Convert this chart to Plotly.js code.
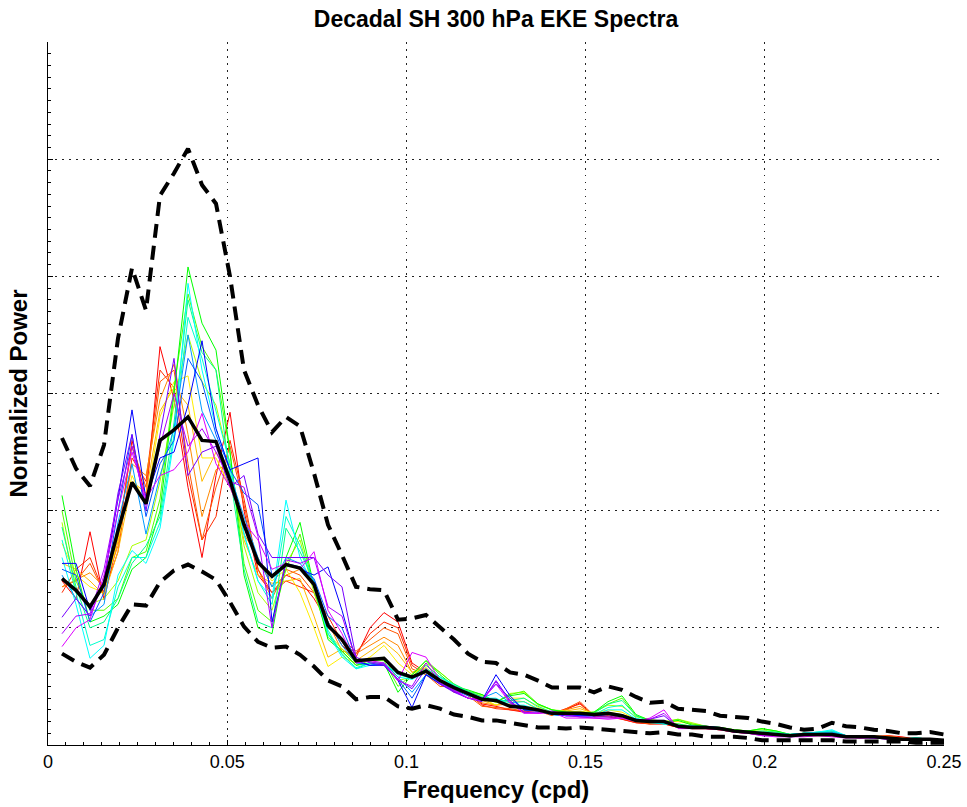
<!DOCTYPE html>
<html>
<head>
<meta charset="utf-8">
<script src="https://cdn.plot.ly/plotly-3.0.1.min.js"></script>
<style>html,body{margin:0;padding:0;background:#fff;}#chart{width:967px;height:807px;}</style>
</head>
<body>
<div id="chart"></div>
<script>
// frequency grid (cpd): k/256, k = 1..64
const freqK = [1,2,3,4,5,6,7,8,9,10,11,12,13,14,15,16,17,18,19,20,21,22,23,24,25,26,27,28,29,30,31,32,
  33,34,35,36,37,38,39,40,41,42,43,44,45,46,47,48,49,50,51,52,53,54,55,56,57,58,59,60,61,62,63,64];
const freq = freqK.map(k => k / 256);

// ensemble mean (solid black)
const meanPow = [1.42,1.32,1.18,1.37,1.83,2.24,2.06,2.60,2.69,2.80,2.60,2.59,2.26,1.88,1.56,1.44,1.54,1.51,1.37,1.02,0.90,0.72,0.73,0.74,0.62,0.58,0.63,0.55,0.49,0.44,0.39,0.38,
  0.33,0.32,0.30,0.27,0.27,0.27,0.26,0.27,0.25,0.21,0.20,0.20,0.16,0.15,0.15,0.14,0.12,0.11,0.10,0.09,0.08,0.09,0.09,0.09,0.07,0.07,0.07,0.06,0.05,0.05,0.05,0.04];
// upper and lower bounds (dashed black)
const upperPow = [2.62,2.36,2.21,2.56,3.47,4.07,3.71,4.69,4.88,5.09,4.78,4.62,4.00,3.20,2.90,2.67,2.80,2.72,2.32,1.88,1.62,1.35,1.33,1.32,1.07,1.08,1.11,1.01,0.90,0.78,0.71,0.70,
  0.62,0.60,0.55,0.49,0.49,0.49,0.45,0.50,0.47,0.41,0.36,0.37,0.31,0.30,0.29,0.25,0.24,0.23,0.20,0.18,0.15,0.13,0.14,0.19,0.16,0.15,0.13,0.12,0.10,0.10,0.11,0.09];
const lowerPow = [0.78,0.71,0.66,0.77,1.00,1.20,1.19,1.39,1.49,1.54,1.48,1.41,1.22,1.01,0.88,0.83,0.84,0.77,0.67,0.55,0.50,0.39,0.41,0.41,0.33,0.31,0.34,0.31,0.26,0.24,0.21,0.21,
  0.19,0.17,0.15,0.15,0.14,0.15,0.14,0.13,0.12,0.11,0.10,0.11,0.09,0.09,0.07,0.07,0.07,0.06,0.04,0.04,0.04,0.04,0.04,0.04,0.03,0.03,0.03,0.03,0.03,0.02,0.02,0.02];

// individual decades (red ... magenta)
const dec01 = [1.40,1.25,1.82,1.24,1.75,2.60,2.10,3.40,2.95,2.20,1.60,2.30,2.84,2.00,1.45,1.30,1.45,1.40,1.25,1.05,0.85,0.75,1.00,1.13,1.05,0.70,0.62,0.55,0.45,0.45,0.35,0.33,
  0.30,0.28,0.30,0.26,0.30,0.36,0.24,0.25,0.22,0.19,0.18,0.18,0.15,0.14,0.14,0.13,0.11,0.10,0.09,0.08,0.08,0.08,0.08,0.08,0.07,0.06,0.07,0.08,0.07,0.05,0.04,0.03];
const dec02 = [1.30,1.50,1.60,1.30,1.65,2.45,2.25,3.20,3.05,2.30,1.75,1.95,2.60,2.10,1.50,1.30,1.40,1.35,1.30,1.10,0.88,0.78,0.95,1.05,1.00,0.68,0.60,0.52,0.47,0.44,0.34,0.31,
  0.30,0.29,0.31,0.27,0.31,0.35,0.25,0.24,0.22,0.19,0.18,0.18,0.15,0.14,0.14,0.13,0.11,0.10,0.09,0.08,0.08,0.08,0.08,0.08,0.07,0.07,0.07,0.07,0.06,0.05,0.05,0.04];
const dec03 = [1.35,1.40,1.55,1.30,1.80,2.55,2.20,3.10,3.20,2.40,1.75,2.20,2.55,2.05,1.50,1.25,1.50,1.45,1.30,1.00,0.90,0.80,0.90,1.00,0.95,0.65,0.60,0.50,0.50,0.42,0.33,0.32,
  0.31,0.29,0.29,0.25,0.31,0.37,0.25,0.26,0.23,0.20,0.18,0.19,0.16,0.14,0.14,0.13,0.12,0.10,0.09,0.08,0.08,0.08,0.09,0.08,0.07,0.07,0.07,0.08,0.06,0.05,0.05,0.04];
const dec04 = [1.35,1.41,1.47,1.35,1.70,2.40,2.30,2.95,3.25,2.65,1.95,2.35,2.40,1.80,1.60,1.35,1.45,1.50,1.35,1.05,0.80,0.78,0.85,0.92,0.85,0.62,0.65,0.55,0.47,0.45,0.36,0.34,
  0.35,0.33,0.28,0.27,0.30,0.33,0.26,0.27,0.25,0.21,0.19,0.19,0.17,0.15,0.15,0.14,0.12,0.11,0.10,0.09,0.08,0.08,0.09,0.09,0.07,0.07,0.08,0.07,0.06,0.05,0.05,0.04];
const dec05 = [1.55,1.50,1.40,1.28,1.65,2.25,2.15,2.85,3.05,2.90,2.25,2.50,2.30,1.75,1.45,1.38,1.40,1.42,1.10,0.75,0.82,0.72,0.80,0.88,0.78,0.62,0.66,0.56,0.48,0.45,0.38,0.34,
  0.38,0.37,0.30,0.28,0.29,0.31,0.27,0.28,0.26,0.22,0.20,0.20,0.18,0.16,0.16,0.14,0.12,0.11,0.10,0.09,0.08,0.09,0.09,0.09,0.08,0.07,0.07,0.06,0.05,0.05,0.05,0.04];
const dec06 = [1.72,1.45,1.35,1.30,1.75,2.30,2.05,2.80,3.10,3.15,2.45,2.45,2.20,1.90,1.55,1.40,1.50,1.30,1.00,0.67,0.75,0.70,0.75,0.85,0.70,0.60,0.68,0.58,0.48,0.44,0.40,0.34,
  0.40,0.40,0.32,0.28,0.28,0.29,0.27,0.30,0.28,0.22,0.21,0.20,0.20,0.18,0.16,0.14,0.12,0.11,0.11,0.10,0.08,0.09,0.09,0.09,0.08,0.07,0.07,0.06,0.05,0.05,0.05,0.04];
const dec07 = [1.90,1.30,1.20,1.25,1.40,1.70,1.75,2.25,2.90,3.50,3.10,2.90,2.40,1.70,1.30,1.15,1.55,1.75,1.30,0.95,0.82,0.70,0.72,0.75,0.55,0.58,0.70,0.62,0.52,0.45,0.42,0.36,
  0.44,0.45,0.34,0.30,0.29,0.28,0.28,0.34,0.33,0.24,0.22,0.20,0.22,0.19,0.16,0.15,0.13,0.12,0.13,0.11,0.09,0.09,0.10,0.10,0.08,0.07,0.06,0.06,0.05,0.05,0.05,0.04];
const dec08 = [2.00,1.40,1.15,1.15,1.25,1.60,1.65,2.10,3.05,3.85,3.40,3.20,2.50,1.55,1.15,1.05,1.50,1.80,1.35,0.92,0.80,0.68,0.72,0.72,0.50,0.60,0.72,0.62,0.52,0.46,0.43,0.37,
  0.43,0.46,0.35,0.30,0.28,0.27,0.28,0.35,0.40,0.25,0.21,0.19,0.22,0.18,0.16,0.15,0.13,0.12,0.14,0.12,0.09,0.10,0.10,0.10,0.08,0.07,0.06,0.06,0.05,0.05,0.05,0.04];
const dec09 = [2.13,1.50,1.05,1.10,1.20,1.50,1.60,2.00,3.00,4.08,3.60,3.37,2.50,1.45,1.00,0.95,1.60,1.90,1.35,0.90,0.80,0.68,0.70,0.70,0.45,0.60,0.72,0.60,0.50,0.47,0.43,0.37,
  0.42,0.44,0.35,0.30,0.28,0.27,0.28,0.37,0.42,0.26,0.21,0.19,0.21,0.17,0.16,0.15,0.13,0.12,0.14,0.12,0.09,0.10,0.10,0.11,0.08,0.07,0.06,0.06,0.05,0.06,0.05,0.04];
const dec10 = [1.86,1.35,1.00,1.05,1.25,1.55,1.70,1.95,2.75,3.80,3.35,3.20,2.30,1.50,1.05,1.00,1.85,1.65,1.40,0.95,0.78,0.65,0.70,0.68,0.62,0.58,0.68,0.58,0.52,0.46,0.41,0.38,
  0.38,0.40,0.33,0.28,0.27,0.26,0.27,0.35,0.38,0.25,0.20,0.18,0.18,0.16,0.15,0.14,0.12,0.11,0.12,0.11,0.09,0.10,0.11,0.12,0.08,0.07,0.06,0.06,0.05,0.06,0.05,0.04];
const dec11 = [1.75,1.30,0.85,0.90,1.35,1.60,1.60,1.90,2.65,3.65,3.30,2.85,2.40,1.80,1.40,1.20,1.95,1.70,1.38,0.98,0.77,0.66,0.70,0.70,0.60,0.57,0.65,0.58,0.51,0.45,0.40,0.39,
  0.36,0.37,0.31,0.27,0.26,0.26,0.26,0.32,0.34,0.23,0.20,0.18,0.17,0.15,0.15,0.14,0.12,0.11,0.11,0.10,0.09,0.10,0.11,0.12,0.08,0.07,0.06,0.06,0.05,0.06,0.05,0.04];
const dec12 = [1.60,1.20,0.74,0.85,1.45,1.66,1.55,1.85,2.60,3.94,3.20,2.70,2.35,1.80,1.40,1.25,2.09,1.60,1.35,0.95,0.75,0.65,0.68,0.70,0.58,0.56,0.62,0.58,0.50,0.43,0.40,0.40,
  0.34,0.34,0.30,0.26,0.25,0.25,0.25,0.30,0.30,0.22,0.19,0.18,0.17,0.15,0.15,0.14,0.12,0.11,0.10,0.10,0.09,0.10,0.11,0.13,0.08,0.07,0.06,0.06,0.05,0.06,0.05,0.04];
const dec13 = [1.45,1.25,1.10,1.20,1.90,2.40,1.80,2.30,2.70,3.50,2.85,2.60,2.30,1.95,1.60,1.35,1.60,1.55,1.40,1.05,0.85,0.70,0.68,0.70,0.58,0.45,0.60,0.55,0.48,0.44,0.40,0.45,
  0.36,0.30,0.29,0.26,0.25,0.26,0.25,0.27,0.26,0.21,0.20,0.19,0.16,0.16,0.15,0.14,0.12,0.11,0.10,0.09,0.09,0.10,0.10,0.11,0.08,0.07,0.06,0.06,0.05,0.05,0.05,0.04];
const dec14 = [1.50,1.45,1.05,1.30,2.00,2.65,1.95,2.40,2.60,3.30,3.10,2.65,2.35,2.15,2.05,1.45,1.55,1.52,1.42,1.10,1.00,0.71,0.68,0.69,0.56,0.40,0.60,0.53,0.47,0.42,0.39,0.52,
  0.40,0.30,0.29,0.26,0.25,0.25,0.25,0.26,0.25,0.21,0.20,0.20,0.15,0.16,0.15,0.14,0.12,0.11,0.10,0.09,0.08,0.09,0.09,0.10,0.07,0.07,0.07,0.06,0.05,0.05,0.04,0.04];
const dec15 = [1.55,1.55,1.15,1.40,2.10,2.86,2.10,2.45,2.50,2.90,3.45,2.70,2.35,2.40,2.45,1.05,1.55,1.50,1.45,1.52,1.15,0.72,0.68,0.68,0.55,0.32,0.60,0.52,0.46,0.40,0.38,0.60,
  0.42,0.30,0.30,0.27,0.25,0.25,0.25,0.26,0.25,0.22,0.21,0.21,0.15,0.16,0.16,0.15,0.12,0.11,0.09,0.09,0.08,0.08,0.09,0.09,0.07,0.07,0.07,0.06,0.05,0.04,0.04,0.04];
const dec16 = [1.09,1.25,1.10,1.41,2.15,2.65,2.00,2.65,3.30,2.30,2.50,2.55,2.20,2.30,1.80,1.60,1.60,1.60,1.60,1.45,1.35,0.75,0.70,0.68,0.56,0.48,0.65,0.52,0.45,0.40,0.37,0.55,
  0.38,0.28,0.28,0.29,0.26,0.24,0.24,0.24,0.24,0.21,0.22,0.25,0.15,0.15,0.15,0.14,0.12,0.11,0.08,0.08,0.07,0.08,0.08,0.08,0.07,0.07,0.06,0.05,0.05,0.04,0.04,0.03];
const dec17 = [0.95,1.10,1.12,1.50,2.10,2.55,2.05,2.55,3.00,2.55,2.70,2.50,2.25,2.20,1.78,1.00,1.58,1.55,1.60,1.18,1.10,0.73,0.71,0.69,0.55,0.50,0.70,0.53,0.46,0.40,0.38,0.54,
  0.37,0.28,0.27,0.28,0.25,0.24,0.23,0.23,0.23,0.21,0.22,0.27,0.15,0.15,0.14,0.14,0.11,0.10,0.08,0.08,0.07,0.08,0.08,0.08,0.07,0.06,0.06,0.05,0.05,0.04,0.04,0.03];
const dec18 = [0.84,1.00,1.07,1.45,2.00,2.50,2.10,2.30,2.35,2.50,2.83,2.40,2.20,1.90,1.75,1.50,1.55,1.50,1.65,1.15,0.95,0.70,0.72,0.70,0.55,0.79,0.75,0.55,0.47,0.40,0.38,0.52,
  0.36,0.27,0.27,0.28,0.23,0.23,0.23,0.22,0.23,0.20,0.23,0.30,0.14,0.14,0.14,0.13,0.11,0.10,0.08,0.07,0.07,0.07,0.08,0.07,0.06,0.06,0.06,0.05,0.05,0.04,0.04,0.03];

const decades = [dec01,dec02,dec03,dec04,dec05,dec06,dec07,dec08,dec09,dec10,dec11,dec12,dec13,dec14,dec15,dec16,dec17,dec18];
const decadeColors = ['#ff0000','#ff2a00','#ff5500','#ff8800','#ffbb00','#ffee00','#aaff00','#55ff00','#00ff00',
  '#00ff88','#00ffcc','#00ffff','#0099ff','#0055ff','#0000ff','#7700ff','#aa00ff','#dd00ff'];

const xTicks = [0, 0.05, 0.1, 0.15, 0.2, 0.25];
const xTickText = ['0','0.05','0.1','0.15','0.2','0.25'];

const traces = [];
decades.forEach((d, i) => {
  traces.push({x: freq, y: d, type: 'scatter', mode: 'lines',
    line: {color: decadeColors[i], width: 1}, hoverinfo: 'skip', showlegend: false});
});
traces.push({x: freq, y: upperPow, type: 'scatter', mode: 'lines',
  line: {color: '#000', width: 4, dash: '14px,8px'}, showlegend: false});
traces.push({x: freq, y: lowerPow, type: 'scatter', mode: 'lines',
  line: {color: '#000', width: 4, dash: '14px,8px'}, showlegend: false});
traces.push({x: freq, y: meanPow, type: 'scatter', mode: 'lines',
  line: {color: '#000', width: 3.5}, showlegend: false});

const font = 'Liberation Sans, Arial, Helvetica, sans-serif';
const layout = {
  width: 967, height: 807,
  paper_bgcolor: '#fff', plot_bgcolor: '#fff',
  margin: {l: 48, r: 23, t: 42, b: 62},
  showlegend: false,
  font: {family: font, color: '#000', size: 18},
  title: {text: '<b>Decadal SH 300 hPa EKE Spectra</b>', font: {family: font, size: 23, color: '#000'},
    x: 0.5, xref: 'paper', xanchor: 'center', y: 1 - 19/807, yref: 'container', yanchor: 'middle'},
  xaxis: {
    range: [0, 0.25], tickvals: xTicks, ticktext: xTickText,
    ticks: 'inside', ticklen: 5, tickcolor: '#000', tickwidth: 1,
    ticklabelstandoff: 0,
    showline: true, linecolor: '#000', linewidth: 1, mirror: false,
    showgrid: true, gridcolor: '#222', gridwidth: 1, griddash: '1.5px,5.5px',
    zeroline: false,
    tickfont: {family: font, size: 18, color: '#000'},
    title: {text: '<b>Frequency (cpd)</b>', font: {family: font, size: 24, color: '#000'}, standoff: 10},
    minor: {ticks: 'inside', ticklen: 3, tickcolor: '#000', dtick: 0.005, showgrid: false}
  },
  yaxis: {
    range: [0, 6], dtick: 1, tick0: 0,
    ticks: 'inside', ticklen: 5, tickcolor: '#000', tickwidth: 1,
    showticklabels: false,
    showline: true, linecolor: '#000', linewidth: 1, mirror: false,
    showgrid: true, gridcolor: '#222', gridwidth: 1, griddash: '1.5px,5.5px',
    zeroline: false,
    title: {text: '<b>Normalized Power</b>', font: {family: font, size: 24, color: '#000'}, standoff: 12},
    minor: {ticks: 'inside', ticklen: 3, tickcolor: '#000', dtick: 0.1, showgrid: false}
  }
};

Plotly.newPlot('chart', traces, layout, {displayModeBar: false, staticPlot: true});
</script>
</body>
</html>
